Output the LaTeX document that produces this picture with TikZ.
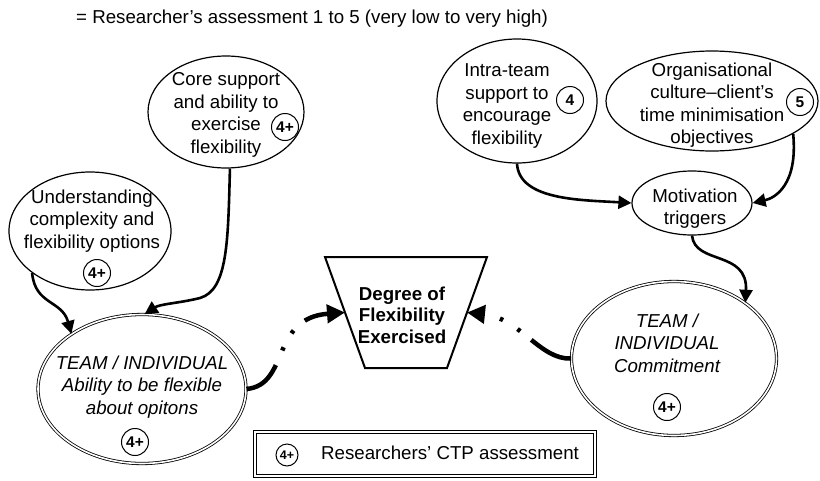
\documentclass[tikz,border=0pt]{standalone}
\usepackage{fontspec}
\setmainfont{Liberation Sans}
\usetikzlibrary{shapes.geometric,arrows.meta}
\begin{document}
\begin{tikzpicture}[x=1pt,y=-1pt,
  font=\fontsize{18.7}{22.5}\selectfont,
  bub/.style={draw, line width=1.2pt, ellipse, inner sep=0pt},
  dbub/.style={draw, ellipse, line width=0.8pt, double, double distance=1.6pt, inner sep=0pt},
  txt/.style={align=center, inner sep=0pt},
  itxt/.style={align=center, inner sep=0pt, font=\fontsize{18.7}{22.5}\selectfont\itshape},
  btxt/.style={align=center, inner sep=0pt, font=\fontsize{18.7}{21.5}\selectfont\bfseries},
  score/.style={draw, circle, line width=1pt, minimum size=27pt, inner sep=0pt, font=\fontsize{15.5}{16}\selectfont\bfseries},
  arr/.style={line width=2.6pt, -{Triangle[length=13pt,width=13pt]}},
  darr/.style={line width=4.5pt, -{Triangle[length=18pt,width=18pt]}},
]
\useasboundingbox (0,0) rectangle (820,480);

\node[anchor=base west, inner sep=0pt] (title) at (76,23.5) {= Researcher’s assessment 1 to 5 (very low to very high)};

% Core support
\node[bub, minimum width=156pt, minimum height=112pt] (core) at (226,112) {};
\node[txt] (coreT) at (226,115) {Core support\\and ability to\\exercise\\flexibility};
\node[score] (coreS) at (285,127) {4+};

% Understanding
\node[bub, minimum width=162pt, minimum height=118pt] (und) at (90,231) {};
\node[txt] (undT) at (92,221) {Understanding\\complexity and\\flexibility options};
\node[score] (undS) at (97,273) {4+};

% Intra-team
\node[bub, minimum width=160pt, minimum height=124pt] (intra) at (517,101) {};
\node[txt] (intraT) at (507,106) {Intra-team\\support to\\encourage\\flexibility};
\node[score] (intraS) at (570,100) {4};

% Organisational
\node[bub, minimum width=212pt, minimum height=100pt] (org) at (712,101) {};
\node[txt] (orgT) at (712,105) {Organisational\\culture–client’s\\time minimisation\\objectives};
\node[score] (orgS) at (800,102) {5};

% Motivation
\node[bub, minimum width=120pt, minimum height=64pt] (mot) at (692,203) {};
\node[txt] (motT) at (695,208.5) {Motivation\\triggers};

% Degree
\coordinate (degTL) at (325,257);
\coordinate (degTR) at (487,257);
\coordinate (degBR) at (447,368);
\coordinate (degBL) at (365,368);
\coordinate (degL) at (345,312.5);
\coordinate (degR) at (467,312.5);
\draw[line width=2pt, line join=miter] (degTL) -- (degTR) -- (degBR) -- (degBL) -- cycle;
\node[btxt] (degT) at (402,315) {Degree of\\Flexibility\\Exercised};

% Team ability
\node[dbub, minimum width=208pt, minimum height=149pt] (team) at (142,389) {};
\node[itxt] (teamT) at (142,387) {TEAM / INDIVIDUAL\\Ability to be flexible\\about opitons};
\node[score] (teamS) at (135,442) {4+};

% Commitment
\node[dbub, minimum width=205pt, minimum height=154pt] (comm) at (674,358.5) {};
\node[itxt] (commT) at (667,343) {TEAM /\\INDIVIDUAL\\Commitment};
\node[score] (commS) at (667,407) {4+};

% Legend
\node[draw, line width=0.9pt, double, double distance=2pt, minimum width=340pt, minimum height=44pt, inner sep=0pt] (leg) at (425,454) {};
\node[score, minimum size=22pt, font=\fontsize{12.5}{13}\selectfont\bfseries] (legS) at (287,455) {4+};
\node[anchor=base west, inner sep=0pt] (legT) at (321,459) {Researchers’ CTP assessment};

% connectors
\draw[arr] (und.216) .. controls (35,305) and (62,300) .. (team.142);
\draw[arr] (core.-86) .. controls (228,240) and (228,290) .. (200,298) .. controls (180,303) and (160,304) .. (team.88);
\draw[arr] (intra.-90) .. controls (519,200) and (580,200) .. (mot.west);
\draw[arr] (org.-22) .. controls (798,185) and (775,198) .. (mot.east);
\draw[arr] (mot.south) .. controls (695,265) and (748,250) .. (comm.38);

\draw[darr, dash pattern=on 40pt off 16pt on 3.5pt off 16pt on 3.5pt off 15pt on 100pt] (team.east) .. controls (290,385) and (270,318) .. (degL);
\draw[darr, dash pattern=on 45pt off 14pt on 3.5pt off 17pt on 3.5pt off 100pt] (comm.west) .. controls (540,360) and (520,318) .. (degR);
\end{tikzpicture}
\end{document}
